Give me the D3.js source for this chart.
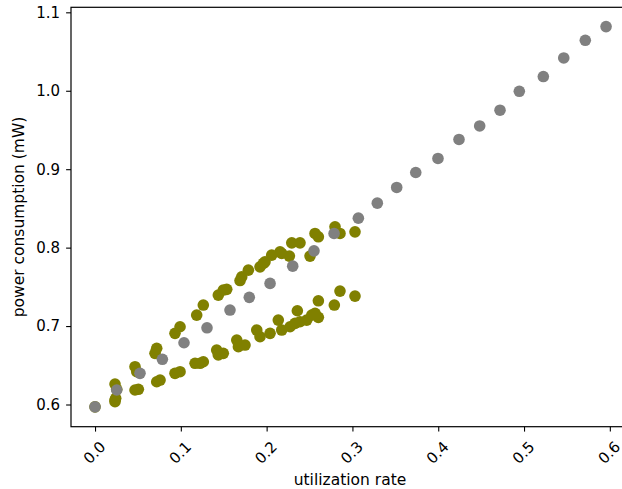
<!DOCTYPE html>
<html>
<head>
<meta charset="utf-8">
<script src="https://cdn.jsdelivr.net/npm/d3@7/dist/d3.min.js"></script>
<style>
  html, body { margin: 0; padding: 0; background: #ffffff; }
  svg { display: block; }
  text { font-family: "DejaVu Sans", sans-serif; fill: #000; }
</style>
</head>
<body>
<svg id="chart" width="622" height="489"></svg>
<script>
// Reference model: power rises linearly with utilization
const refX = [0.0, 0.0253, 0.0524, 0.0785, 0.1037, 0.1305, 0.1573, 0.1798, 0.204, 0.2304,
  0.2552, 0.2786, 0.3069, 0.329, 0.3516, 0.3738, 0.3997, 0.4242, 0.4483, 0.472,
  0.4945, 0.5225, 0.5463, 0.5714, 0.5956];
const refY = [0.597, 0.6185, 0.6397, 0.6576, 0.6787, 0.6978, 0.7204, 0.7366, 0.7544, 0.7764,
  0.7959, 0.8181, 0.8376, 0.8567, 0.8767, 0.8958, 0.9137, 0.9379, 0.9551, 0.9752,
  0.9993, 1.0181, 1.0418, 1.0643, 1.0818];

// Measured power, upper branch (load increasing)
const upX = [0.0, 0.0233, 0.0253, 0.0466, 0.0486, 0.0699, 0.0719, 0.0932, 0.0991, 0.1185,
  0.1262, 0.1437, 0.1495, 0.1535, 0.169, 0.171, 0.1787, 0.1923, 0.1962, 0.1981,
  0.2059, 0.2156, 0.2176, 0.2265, 0.2293, 0.2389, 0.2506, 0.2564, 0.2603, 0.2797,
  0.2855, 0.303];
const upY = [0.597, 0.6261, 0.6194, 0.6482, 0.6418, 0.6652, 0.6716, 0.6907, 0.6991, 0.714,
  0.7268, 0.7395, 0.7459, 0.7468, 0.758, 0.7628, 0.7713, 0.7755, 0.7799, 0.7819,
  0.7904, 0.7946, 0.7926, 0.7892, 0.8061, 0.8061, 0.7892, 0.8181, 0.8138, 0.8265,
  0.8181, 0.8201];

// Measured power, lower branch (load decreasing)
const lowX = [0.0233, 0.0241, 0.0233, 0.0466, 0.0505, 0.0719, 0.0758, 0.0932, 0.0991, 0.1166,
  0.1224, 0.1262, 0.1418, 0.1437, 0.1495, 0.1652, 0.1671, 0.1748, 0.1885, 0.1923,
  0.204, 0.2136, 0.2176, 0.2273, 0.2331, 0.2389, 0.2358, 0.2467, 0.2526, 0.2564,
  0.2603, 0.2603, 0.2789, 0.2855, 0.303];
const lowY = [0.6057, 0.6079, 0.6036, 0.6185, 0.6194, 0.629, 0.6312, 0.6397, 0.6418, 0.6525,
  0.6525, 0.6545, 0.6694, 0.6631, 0.6652, 0.6822, 0.6736, 0.6758, 0.6949, 0.6864,
  0.6907, 0.7076, 0.6949, 0.6991, 0.7034, 0.7055, 0.7195, 0.7076, 0.714, 0.7162,
  0.7111, 0.7322, 0.7268, 0.7446, 0.7382];

const xTicks = [0.0, 0.1, 0.2, 0.3, 0.4, 0.5, 0.6];
const yTicks = [0.6, 0.7, 0.8, 0.9, 1.0, 1.1];
const xLabel = "utilization rate";
const yLabel = "power consumption (mW)";

const svg = d3.select("#chart");
const plotLeft = 71, plotTop = 7.3, plotBottom = 426.7, plotRight = 633;

const x = d3.scaleLinear().domain([-0.028, 0.627]).range([plotLeft, plotRight]);
const y = d3.scaleLinear().domain([0.5717, 1.1064]).range([plotBottom, plotTop]);

const measured = d3.zip(upX, upY).concat(d3.zip(lowX, lowY));
const reference = d3.zip(refX, refY);

svg.append("g").selectAll("circle")
  .data(measured).join("circle")
  .attr("cx", d => x(d[0])).attr("cy", d => y(d[1]))
  .attr("r", 5.8).attr("fill", "#808000");

svg.append("g").selectAll("circle")
  .data(reference).join("circle")
  .attr("cx", d => x(d[0])).attr("cy", d => y(d[1]))
  .attr("r", 5.8).attr("fill", "#808080");

// Axes
const xAxis = svg.append("g")
  .attr("transform", `translate(0,${plotBottom})`)
  .call(d3.axisBottom(x).tickValues(xTicks).tickFormat(d3.format(".1f")).tickSize(4.9).tickPadding(3.5));
xAxis.selectAll("text")
  .attr("font-size", 15)
  .attr("text-anchor", "middle")
  .attr("dy", null)
  .attr("y", null)
  .attr("dominant-baseline", "central")
  .attr("transform", "translate(-1,26) rotate(-45)");

const yAxis = svg.append("g")
  .attr("transform", `translate(${plotLeft},0)`)
  .call(d3.axisLeft(y).tickValues(yTicks).tickFormat(d3.format(".1f")).tickSize(4.9).tickPadding(6));
yAxis.selectAll("text").attr("font-size", 15);

[xAxis, yAxis].forEach(g => {
  g.select(".domain").remove();
  g.selectAll("line").attr("stroke", "#000").attr("stroke-width", 1.1);
  g.attr("font-family", "DejaVu Sans, sans-serif");
});

// Frame around the plotting area
svg.append("rect")
  .attr("x", plotLeft).attr("y", plotTop)
  .attr("width", plotRight - plotLeft).attr("height", plotBottom - plotTop)
  .attr("fill", "none").attr("stroke", "#000").attr("stroke-width", 1.2);

svg.append("text")
  .attr("x", 350).attr("y", 485)
  .attr("text-anchor", "middle").attr("font-size", 15.5)
  .text(xLabel);

svg.append("text")
  .attr("transform", `translate(23.5,${(plotTop + plotBottom) / 2}) rotate(-90)`)
  .attr("text-anchor", "middle").attr("font-size", 15.5)
  .text(yLabel);
</script>
</body>
</html>
